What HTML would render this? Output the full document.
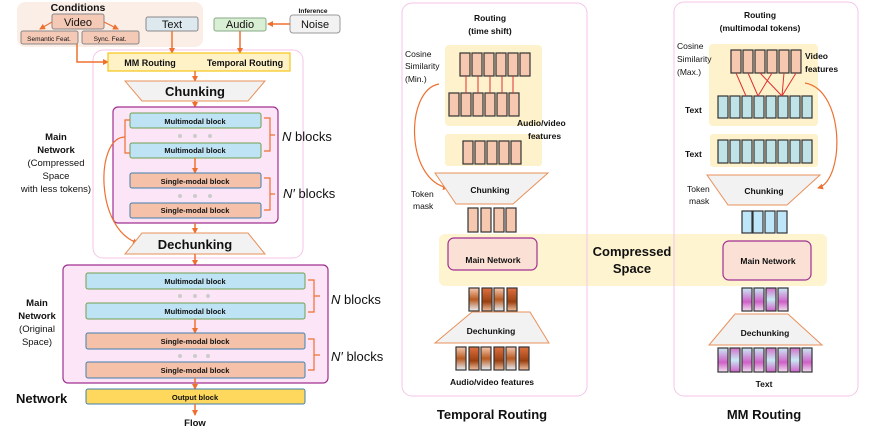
<!DOCTYPE html>
<html><head><meta charset="utf-8"><style>
html,body{margin:0;padding:0;background:#fff}
svg{display:block}
text{font-family:"Liberation Sans",sans-serif;fill:#111}
.b{font-weight:bold}
</style></head><body>
<svg width="877" height="430" viewBox="0 0 877 430" xmlns="http://www.w3.org/2000/svg">
<defs>
<marker id="ar" markerWidth="6" markerHeight="6" refX="5" refY="3" orient="auto" markerUnits="userSpaceOnUse"><path d="M0,0 L6,3 L0,6 z" fill="#ee7030"/></marker>
<linearGradient id="g1" x1="0" y1="0" x2="0" y2="1"><stop offset="0" stop-color="#f7c9b0"/><stop offset="0.5" stop-color="#b85a20"/><stop offset="1" stop-color="#e8f0f8"/></linearGradient>
<linearGradient id="g2" x1="0" y1="0" x2="0" y2="1"><stop offset="0" stop-color="#e07040"/><stop offset="0.6" stop-color="#9a4010"/><stop offset="1" stop-color="#f0c0a0"/></linearGradient>
<linearGradient id="g3" x1="0" y1="0" x2="0" y2="1"><stop offset="0" stop-color="#c9e9f5"/><stop offset="0.6" stop-color="#d060c8"/><stop offset="1" stop-color="#f0e0f0"/></linearGradient>
<linearGradient id="g4" x1="0" y1="0" x2="0" y2="1"><stop offset="0" stop-color="#d070c8"/><stop offset="0.5" stop-color="#c9e9f5"/><stop offset="1" stop-color="#d060c8"/></linearGradient>
</defs>

<!-- ===== LEFT ===== -->
<rect x="17" y="2" width="186" height="45" rx="8" fill="#fbeee6"/>
<text x="78" y="11" class="b" font-size="10.5" text-anchor="middle">Conditions</text>
<rect x="52" y="14" width="52" height="15" rx="2" fill="#f4c9b6" stroke="#888"/>
<text x="78" y="26" font-size="11" text-anchor="middle">Video</text>
<rect x="21" y="31" width="57" height="13" rx="2" fill="#f4c9b6" stroke="#888"/>
<text x="49" y="41" font-size="6.5" text-anchor="middle">Semantic Feat.</text>
<rect x="82" y="31" width="57" height="13" rx="2" fill="#f4c9b6" stroke="#888"/>
<text x="110" y="41" font-size="6.5" text-anchor="middle">Sync. Feat.</text>
<path d="M52,22 L40,29" stroke="#ee7030" stroke-width="1.2" marker-end="url(#ar)"/>
<path d="M104,22 L118,29" stroke="#ee7030" stroke-width="1.2" marker-end="url(#ar)"/>
<rect x="146" y="17" width="52" height="14" rx="2" fill="#dde9ef" stroke="#888"/>
<text x="172" y="28" font-size="11" text-anchor="middle">Text</text>
<rect x="214" y="18" width="52" height="13" rx="2" fill="#d9efd3" stroke="#8a8"/>
<text x="240" y="28" font-size="11" text-anchor="middle">Audio</text>
<text x="313" y="13" class="b" font-size="6.5" text-anchor="middle">Inference</text>
<rect x="290" y="15" width="50" height="18" rx="3" fill="#f2f2f2" stroke="#999"/>
<text x="315" y="28" font-size="11" text-anchor="middle">Noise</text>
<path d="M290,24 L268,24" stroke="#ee7030" stroke-width="1.5" marker-end="url(#ar)"/>

<rect x="93" y="50" width="210" height="208" rx="10" fill="none" stroke="#f4c6e8"/>
<path d="M77,44 L77,62 L108,62" fill="none" stroke="#ee7030" stroke-width="1.5" marker-end="url(#ar)"/>
<path d="M172,31 L172,53" stroke="#ee7030" stroke-width="1.5" marker-end="url(#ar)"/>
<path d="M240,31 L240,53" stroke="#ee7030" stroke-width="1.5" marker-end="url(#ar)"/>
<rect x="108" y="53" width="182" height="18" fill="#fff2c6" stroke="#f5c518" stroke-width="1.2"/>
<text x="150" y="66" class="b" font-size="9" text-anchor="middle">MM Routing</text>
<text x="245" y="66" class="b" font-size="9" text-anchor="middle">Temporal Routing</text>
<path d="M195,71 L195,81" stroke="#ee7030" stroke-width="1.5" marker-end="url(#ar)"/>
<polygon points="125,81 265,81 248,101 142,101" fill="#f2f2f2" stroke="#e8905a"/>
<text x="195" y="96" class="b" font-size="13" text-anchor="middle">Chunking</text>
<path d="M195,101 L195,107" stroke="#ee7030" stroke-width="1.5" marker-end="url(#ar)"/>
<rect x="113" y="107" width="165" height="116" rx="5" fill="#fbe5f7" stroke="#a03090" stroke-width="1.2"/>
<rect x="130" y="113" width="131" height="15" rx="2" fill="#bde3f5" stroke="#70a050"/>
<text x="195" y="124" class="b" font-size="7.5" text-anchor="middle">Multimodal block</text>
<circle cx="180" cy="136" r="2" fill="#ccc"/><circle cx="195" cy="136" r="2" fill="#ccc"/><circle cx="210" cy="136" r="2" fill="#ccc"/>
<rect x="130" y="143" width="131" height="15" rx="2" fill="#bde3f5" stroke="#70a050"/>
<text x="195" y="153" class="b" font-size="7.5" text-anchor="middle">Multimodal block</text>
<path d="M195,158 L195,173" stroke="#ee7030" stroke-width="1.5" marker-end="url(#ar)"/>
<rect x="130" y="173" width="131" height="15" rx="2" fill="#f5c1a8" stroke="#4080b0"/>
<text x="195" y="184" class="b" font-size="7.5" text-anchor="middle">Single-modal block</text>
<circle cx="180" cy="196" r="2" fill="#ccc"/><circle cx="195" cy="196" r="2" fill="#ccc"/><circle cx="210" cy="196" r="2" fill="#ccc"/>
<rect x="130" y="203" width="131" height="15" rx="2" fill="#f5c1a8" stroke="#4080b0"/>
<text x="195" y="213" class="b" font-size="7.5" text-anchor="middle">Single-modal block</text>
<path d="M264,118 L270,118 L270,151 L264,151 M270,135 L275,135" fill="none" stroke="#ee7030" stroke-width="1.2"/>
<path d="M264,178 L270,178 L270,210 L264,210 M270,194 L275,194" fill="none" stroke="#ee7030" stroke-width="1.2"/>
<text x="282" y="141" font-size="13"><tspan font-style="italic">N</tspan> blocks</text>
<text x="283" y="198" font-size="13"><tspan font-style="italic">N′</tspan> blocks</text>
<path d="M130,120 L125,120 L125,153 L130,153" fill="none" stroke="#ee7030" stroke-width="1.2"/>
<path d="M125,137 C95,137 95,230 138,243" fill="none" stroke="#ee7030" stroke-width="1.2" marker-end="url(#ar)"/>
<text x="56" y="140" class="b" font-size="9.5" text-anchor="middle">Main</text>
<text x="56" y="153" class="b" font-size="9.5" text-anchor="middle">Network</text>
<text x="56" y="166" font-size="9.5" text-anchor="middle">(Compressed</text>
<text x="56" y="179" font-size="9.5" text-anchor="middle">Space</text>
<text x="56" y="192" font-size="9.5" text-anchor="middle">with less tokens)</text>
<path d="M195,223 L195,233" stroke="#ee7030" stroke-width="1.5" marker-end="url(#ar)"/>
<polygon points="142,233 248,233 265,254 125,254" fill="#f2f2f2" stroke="#e8905a"/>
<text x="195" y="249" class="b" font-size="13" text-anchor="middle">Dechunking</text>
<path d="M195,254 L195,265" stroke="#ee7030" stroke-width="1.5" marker-end="url(#ar)"/>

<rect x="63" y="265" width="265" height="118" rx="5" fill="#fbe5f7" stroke="#a03090" stroke-width="1.2"/>
<rect x="86" y="273" width="219" height="16" rx="2" fill="#bde3f5" stroke="#70a050"/>
<text x="195" y="284" class="b" font-size="7.5" text-anchor="middle">Multimodal block</text>
<circle cx="180" cy="296" r="2" fill="#ccc"/><circle cx="195" cy="296" r="2" fill="#ccc"/><circle cx="208" cy="296" r="2" fill="#ccc"/>
<rect x="86" y="303" width="219" height="16" rx="2" fill="#bde3f5" stroke="#70a050"/>
<text x="195" y="314" class="b" font-size="7.5" text-anchor="middle">Multimodal block</text>
<path d="M195,319 L195,333" stroke="#ee7030" stroke-width="1.5" marker-end="url(#ar)"/>
<rect x="86" y="333" width="219" height="16" rx="2" fill="#f5c1a8" stroke="#4080b0"/>
<text x="195" y="344" class="b" font-size="7.5" text-anchor="middle">Single-modal block</text>
<circle cx="180" cy="356" r="2" fill="#ccc"/><circle cx="195" cy="356" r="2" fill="#ccc"/><circle cx="208" cy="356" r="2" fill="#ccc"/>
<rect x="86" y="362" width="219" height="16" rx="2" fill="#f5c1a8" stroke="#4080b0"/>
<text x="195" y="373" class="b" font-size="7.5" text-anchor="middle">Single-modal block</text>
<path d="M308,280 L314,280 L314,312 L308,312 M314,296 L320,296" fill="none" stroke="#ee7030" stroke-width="1.2"/>
<path d="M308,339 L314,339 L314,370 L308,370 M314,355 L320,355" fill="none" stroke="#ee7030" stroke-width="1.2"/>
<text x="331" y="304" font-size="13"><tspan font-style="italic">N</tspan> blocks</text>
<text x="331" y="361" font-size="13"><tspan font-style="italic">N′</tspan> blocks</text>
<text x="37" y="306" class="b" font-size="9.5" text-anchor="middle">Main</text>
<text x="37" y="319" class="b" font-size="9.5" text-anchor="middle">Network</text>
<text x="37" y="332" font-size="9.5" text-anchor="middle">(Original</text>
<text x="37" y="345" font-size="9.5" text-anchor="middle">Space)</text>
<text x="16" y="403" class="b" font-size="13">Network</text>
<path d="M195,378 L195,389" stroke="#ee7030" stroke-width="1.5" marker-end="url(#ar)"/>
<rect x="86" y="389" width="219" height="15" rx="2" fill="#fdd85d" stroke="#4080b0"/>
<text x="195" y="400" class="b" font-size="7.5" text-anchor="middle">Output block</text>
<path d="M195,404 L195,415" stroke="#ee7030" stroke-width="1.5" marker-end="url(#ar)"/>
<text x="195" y="426" class="b" font-size="9.5" text-anchor="middle">Flow</text>

<!-- ===== COMPRESSED SPACE BAND ===== -->
<rect x="439" y="234" width="388" height="52" rx="6" fill="#fef4d0"/>
<text x="632" y="256" class="b" font-size="13" text-anchor="middle">Compressed</text>
<text x="632" y="273" class="b" font-size="13" text-anchor="middle">Space</text>

<!-- ===== MIDDLE ===== -->
<rect x="402" y="3" width="185" height="393" rx="10" fill="none" stroke="#f4c6e8"/>
<text x="490" y="21" class="b" font-size="8.5" text-anchor="middle">Routing</text>
<text x="490" y="34" class="b" font-size="8.5" text-anchor="middle">(time shift)</text>
<rect x="445" y="45" width="97" height="81" rx="4" fill="#fef2cc"/>
<g fill="#f6c8b0" stroke="#333" stroke-width="1.2">
<rect x="460" y="53" width="10" height="23"/><rect x="472" y="53" width="10" height="23"/><rect x="484" y="53" width="10" height="23"/><rect x="496" y="53" width="10" height="23"/><rect x="508" y="53" width="10" height="23"/><rect x="520" y="53" width="10" height="23"/>
<rect x="449" y="93" width="10" height="23"/><rect x="461" y="93" width="10" height="23"/><rect x="473" y="93" width="10" height="23"/><rect x="485" y="93" width="10" height="23"/><rect x="497" y="93" width="10" height="23"/><rect x="509" y="93" width="10" height="23"/>
</g>
<g stroke="#e03030" stroke-width="1"><path d="M466,76 L466,93 M478,76 L478,93 M490,76 L490,93 M502,76 L502,93 M513,76 L513,93"/></g>
<text x="405" y="57" font-size="8.5" fill="#444">Cosine</text>
<text x="405" y="69" font-size="8.5" fill="#444">Similarity</text>
<text x="405" y="82" font-size="8.5" fill="#444">(Min.)</text>
<rect x="445" y="134" width="97" height="32" rx="3" fill="#fef2cc"/>
<text x="517" y="126" class="b" font-size="8.5">Audio/video</text>
<text x="528" y="139" class="b" font-size="8.5">features</text>
<g fill="#f6c8b0" stroke="#333" stroke-width="1.2">
<rect x="463" y="141" width="10" height="23"/><rect x="475" y="141" width="10" height="23"/><rect x="487" y="141" width="10" height="23"/><rect x="499" y="141" width="10" height="23"/><rect x="511" y="141" width="10" height="23"/>
</g>
<path d="M439,84 C405,90 405,180 448,188" fill="none" stroke="#ee7030" stroke-width="1.2" marker-end="url(#ar)"/>
<polygon points="435,173 548,173 513,204 456,204" fill="#f2f2f2" stroke="#e8905a"/>
<text x="490" y="193" class="b" font-size="8.5" text-anchor="middle">Chunking</text>
<text x="411" y="197" font-size="8.5" fill="#444">Token</text>
<text x="413" y="209" font-size="8.5" fill="#444">mask</text>
<g fill="#f6c8b0" stroke="#333" stroke-width="1.2">
<rect x="468" y="208" width="10" height="24"/><rect x="481" y="208" width="10" height="24"/><rect x="494" y="208" width="10" height="24"/><rect x="506" y="208" width="10" height="24"/>
</g>
<rect x="448" y="238" width="89" height="32" rx="6" fill="#fbe0d5" stroke="#a03090" stroke-width="1.2"/>
<text x="493" y="263" class="b" font-size="8.5" text-anchor="middle">Main Network</text>
<g stroke="#333" stroke-width="1.2">
<rect x="469" y="288" width="10" height="23" fill="url(#g1)"/><rect x="482" y="288" width="10" height="23" fill="url(#g2)"/><rect x="494" y="288" width="10" height="23" fill="url(#g1)"/><rect x="507" y="288" width="10" height="23" fill="url(#g2)"/>
</g>
<polygon points="472,312 530,312 549,343 435,343" fill="#f2f2f2" stroke="#e8905a"/>
<text x="491" y="334" class="b" font-size="8.5" text-anchor="middle">Dechunking</text>
<g stroke="#333" stroke-width="1.2">
<rect x="456" y="347" width="10" height="23" fill="url(#g1)"/><rect x="469" y="347" width="10" height="23" fill="url(#g2)"/><rect x="481" y="347" width="10" height="23" fill="url(#g1)"/><rect x="494" y="347" width="10" height="23" fill="url(#g2)"/><rect x="506" y="347" width="10" height="23" fill="url(#g1)"/><rect x="519" y="347" width="10" height="23" fill="url(#g2)"/>
</g>
<text x="492" y="385" class="b" font-size="8.5" text-anchor="middle">Audio/video features</text>
<text x="492" y="419" class="b" font-size="13" text-anchor="middle">Temporal Routing</text>

<!-- ===== RIGHT ===== -->
<rect x="674" y="2" width="184" height="394" rx="10" fill="none" stroke="#f4c6e8"/>
<text x="760" y="18" class="b" font-size="8.5" text-anchor="middle">Routing</text>
<text x="760" y="31" class="b" font-size="8.5" text-anchor="middle">(multimodal tokens)</text>
<rect x="709" y="44" width="109" height="82" rx="4" fill="#fef2cc"/>
<g fill="#f6c8b0" stroke="#333" stroke-width="1.2">
<rect x="731" y="50" width="10" height="23"/><rect x="743" y="50" width="10" height="23"/><rect x="755" y="50" width="10" height="23"/><rect x="767" y="50" width="10" height="23"/><rect x="779" y="50" width="10" height="23"/><rect x="791" y="50" width="10" height="23"/>
</g>
<g fill="#bfe3e6" stroke="#333" stroke-width="1.2">
<rect x="718" y="96" width="10" height="22"/><rect x="730" y="96" width="10" height="22"/><rect x="742" y="96" width="10" height="22"/><rect x="754" y="96" width="10" height="22"/><rect x="766" y="96" width="10" height="22"/><rect x="778" y="96" width="10" height="22"/><rect x="790" y="96" width="10" height="22"/><rect x="802" y="96" width="10" height="22"/>
</g>
<g stroke="#e03030" stroke-width="1"><path d="M736,73 L746,96 M748,73 L758,96 M760,73 L782,96 M772,73 L758,96 M784,73 L782,96 M796,73 L782,96"/></g>
<text x="677" y="49" font-size="8.5" fill="#444">Cosine</text>
<text x="677" y="62" font-size="8.5" fill="#444">Similarity</text>
<text x="677" y="75" font-size="8.5" fill="#444">(Max.)</text>
<text x="805" y="59" class="b" font-size="8.5">Video</text>
<text x="805" y="72" class="b" font-size="8.5">features</text>
<text x="685" y="113" class="b" font-size="8.5">Text</text>
<rect x="710" y="134" width="108" height="33" rx="3" fill="#fef2cc"/>
<g fill="#bfe3e6" stroke="#333" stroke-width="1.2">
<rect x="718" y="140" width="10" height="23"/><rect x="730" y="140" width="10" height="23"/><rect x="742" y="140" width="10" height="23"/><rect x="754" y="140" width="10" height="23"/><rect x="766" y="140" width="10" height="23"/><rect x="778" y="140" width="10" height="23"/><rect x="790" y="140" width="10" height="23"/><rect x="802" y="140" width="10" height="23"/>
</g>
<text x="685" y="157" class="b" font-size="8.5">Text</text>
<path d="M805,83 C845,90 845,180 818,188" fill="none" stroke="#ee7030" stroke-width="1.2" marker-end="url(#ar)"/>
<polygon points="707,175 820,175 787,205 728,205" fill="#f2f2f2" stroke="#e8905a"/>
<text x="764" y="194" class="b" font-size="8.5" text-anchor="middle">Chunking</text>
<text x="687" y="192" font-size="8.5" fill="#444">Token</text>
<text x="689" y="204" font-size="8.5" fill="#444">mask</text>
<g fill="#bde6f8" stroke="#333" stroke-width="1.2">
<rect x="742" y="211" width="10" height="22"/><rect x="753" y="211" width="10" height="22"/><rect x="765" y="211" width="10" height="22"/><rect x="777" y="211" width="10" height="22"/>
</g>
<rect x="723" y="241" width="88" height="39" rx="6" fill="#fbe0d5" stroke="#a03090" stroke-width="1.2"/>
<text x="768" y="264" class="b" font-size="8.5" text-anchor="middle">Main Network</text>
<g stroke="#333" stroke-width="1.2">
<rect x="742" y="288" width="10" height="23" fill="url(#g3)"/><rect x="754" y="288" width="10" height="23" fill="url(#g3)"/><rect x="766" y="288" width="10" height="23" fill="url(#g4)"/><rect x="778" y="288" width="10" height="23" fill="url(#g3)"/>
</g>
<polygon points="735,314 788,314 822,345 709,345" fill="#f2f2f2" stroke="#e8905a"/>
<text x="765" y="336" class="b" font-size="8.5" text-anchor="middle">Dechunking</text>
<g stroke="#333" stroke-width="1.2">
<rect x="718" y="348" width="10" height="24" fill="url(#g3)"/><rect x="730" y="348" width="10" height="24" fill="url(#g4)"/><rect x="742" y="348" width="10" height="24" fill="url(#g3)"/><rect x="754" y="348" width="10" height="24" fill="url(#g3)"/><rect x="766" y="348" width="10" height="24" fill="url(#g4)"/><rect x="778" y="348" width="10" height="24" fill="url(#g3)"/><rect x="790" y="348" width="10" height="24" fill="url(#g4)"/><rect x="802" y="348" width="10" height="24" fill="url(#g3)"/>
</g>
<text x="764" y="387" class="b" font-size="8.5" text-anchor="middle">Text</text>
<text x="764" y="419" class="b" font-size="13" text-anchor="middle">MM Routing</text>
</svg>
</body></html>
